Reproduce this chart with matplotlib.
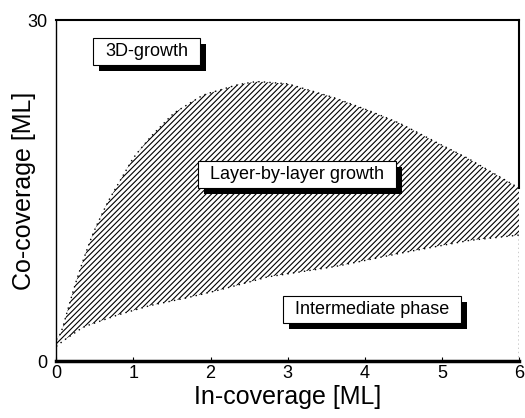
import numpy as np
import matplotlib
matplotlib.use("Agg")
import matplotlib.pyplot as plt
import matplotlib.patches as mpatches

plt.rcParams['font.family'] = ['Liberation Sans', 'DejaVu Sans']
plt.rcParams['hatch.linewidth'] = 0.8

# upper boundary of layer-by-layer region
upper_x = [0.0, 0.05, 0.22, 0.35, 0.48, 0.66, 0.83, 1.0, 1.22, 1.52, 1.9,
           2.34, 2.6, 3.0, 3.59, 4.03, 4.46, 4.88, 5.32, 6.0]
upper_y = [1.85, 2.1, 6.2, 8.9, 11.3, 13.9, 15.9, 17.9, 19.7, 21.8, 23.4,
           24.3, 24.6, 24.4, 23.2, 22.1, 20.9, 19.4, 17.9, 15.2]
# lower boundary
lower_x = [0.0, 0.05, 0.35, 0.79, 1.22, 1.65, 2.08, 2.47, 2.73, 3.6, 4.46, 5.33, 6.0]
lower_y = [1.2, 1.6, 3.0, 4.05, 4.9, 5.5, 6.2, 6.9, 7.4, 8.3, 9.5, 10.6, 11.1]

labels = ["3D-growth", "Layer-by-layer growth", "Intermediate phase"]
label_x = [1.17, 3.12, 4.09]
label_y = [27.2, 16.4, 4.5]

fig = plt.figure(figsize=(5.25, 4.18), dpi=100)
ax = fig.add_axes([0.107, 0.136, 0.882, 0.816])
ax.set_xlim(0, 6)
ax.set_ylim(0, 30)

xs = np.linspace(0, 6, 400)
up = np.interp(xs, upper_x, upper_y)
lo = np.interp(xs, lower_x, lower_y)
k = np.ones(7) / 7
up = np.convolve(np.pad(up, 3, mode='edge'), k, mode='valid')
lo = np.convolve(np.pad(lo, 3, mode='edge'), k, mode='valid')

ax.fill_between(xs, lo, up, facecolor='none', edgecolor='black',
                hatch='//////', linewidth=0)
ax.plot(xs, up, color='black', linestyle=(0, (1, 3)), linewidth=1)
ax.plot(xs, lo, color='black', linestyle=(0, (1, 3)), linewidth=1)
ax.plot([6, 6], [0, lo[-1]], color='black', linestyle=(0, (1, 2)), linewidth=1)
ax.plot([6, 6], [up[-1], 30], color='black', linewidth=1.5, clip_on=False)

# labels in boxes with a black drop shadow
texts = []
for t, x, y in zip(labels, label_x, label_y):
    texts.append(ax.text(x, y, t, ha='center', va='center', fontsize=13, zorder=5))

fig.canvas.draw()
inv = ax.transData.inverted()
padx, pady, sh = 12, 5, 6
for txt in texts:
    bb = txt.get_window_extent()
    x0, y0 = inv.transform((bb.x0 - padx, bb.y0 - pady))
    x1, y1 = inv.transform((bb.x1 + padx, bb.y1 + pady))
    sx0, sy0 = inv.transform((bb.x0 - padx + sh, bb.y0 - pady - sh))
    ax.add_patch(mpatches.Rectangle((sx0, sy0), x1 - x0, y1 - y0,
                                    facecolor='black', edgecolor='none', zorder=3))
    ax.add_patch(mpatches.Rectangle((x0, y0), x1 - x0, y1 - y0,
                                    facecolor='white', edgecolor='black',
                                    linewidth=0.8, zorder=4))

ax.set_xticks(range(7))
ax.set_yticks([0, 30])
ax.tick_params(direction='in', length=3, labelsize=13)
ax.tick_params(axis='x', pad=3)
ax.tick_params(axis='y', length=0, pad=6)
ax.spines['right'].set_visible(False)
ax.spines['bottom'].set_linewidth(2.5)
ax.spines['top'].set_linewidth(1.5)
ax.spines['left'].set_linewidth(1.0)

ax.set_xlabel("In-coverage [ML]", fontsize=18, labelpad=2)
ax.set_ylabel("Co-coverage [ML]", fontsize=18, labelpad=-6)

fig.savefig("out.png", dpi=100)
